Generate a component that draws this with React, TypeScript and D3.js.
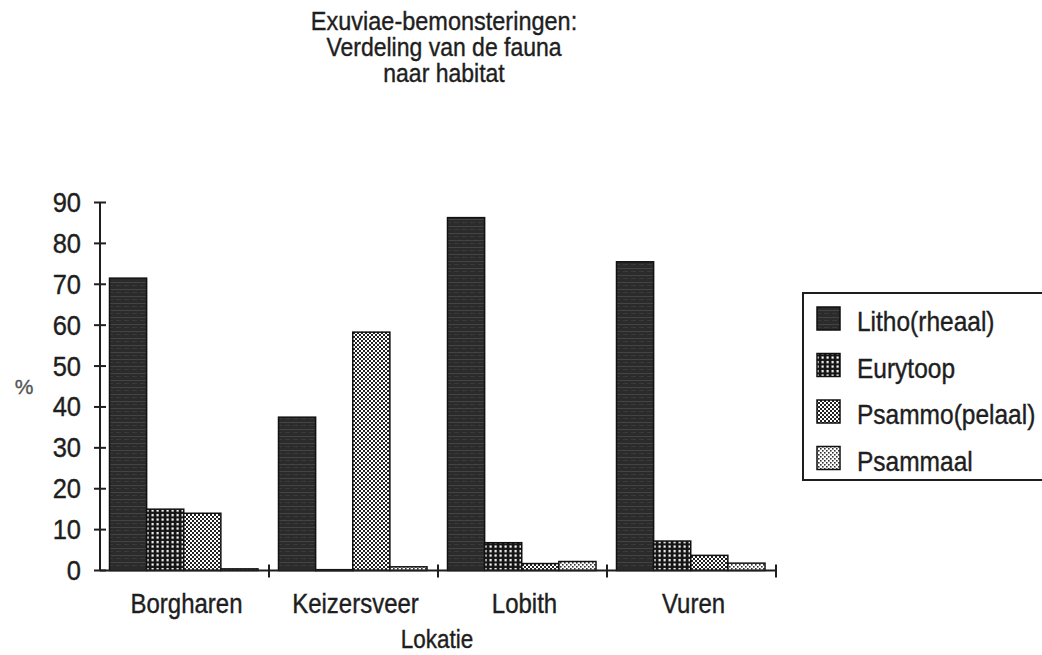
import React from "react";
import * as d3 from "d3";

const categories = ["Borgharen", "Keizersveer", "Lobith", "Vuren"];
const seriesNames = ["Litho(rheaal)", "Eurytoop", "Psammo(pelaal)", "Psammaal"];
const lithoValues = [71.5, 37.5, 86.3, 75.5];
const eurytoopValues = [15.0, 0.2, 6.8, 7.2];
const psammoValues = [14.0, 58.3, 1.7, 3.7];
const psammaalValues = [0.4, 0.9, 2.2, 1.8];
const yTicks = [0, 10, 20, 30, 40, 50, 60, 70, 80, 90];

const seriesValues = [lithoValues, eurytoopValues, psammoValues, psammaalValues];
const patternIds = ["pLitho", "pEury", "pPsammo", "pPsammaal"];

const FONT = "'Liberation Sans', Arial, Helvetica, sans-serif";
const INK = "#1e1e1e";

function T({ x, y, size, anchor = "start", sy = 1.15, fill = INK, children }: any) {
  return (
    <text
      transform={`translate(${x},${y}) scale(1,${sy})`}
      fontSize={size}
      textAnchor={anchor}
      fontFamily={FONT}
      fill={fill}
      stroke={fill}
      strokeWidth={0.35}
    >
      {children}
    </text>
  );
}

export default function App() {
  const W = 1042;
  const H = 655;
  const axisX = 100;
  const axisRight = 776;
  const baseY = 570.5;
  const topY = 202.5;

  const y = d3.scaleLinear().domain([0, 90]).range([baseY, topY]);
  const x0 = d3.scaleBand<string>().domain(categories).range([axisX, axisRight]).padding(0);
  const inner = d3
    .scaleBand<string>()
    .domain(seriesNames)
    .range([9.5, 158])
    .padding(0);

  return (
    <svg
      width={W}
      height={H}
      style={{ position: "absolute", left: 0, top: 0, background: "#fff" }}
    >
      <defs>
        <pattern id="pLitho" width="8" height="7" patternUnits="userSpaceOnUse">
          <rect width="8" height="7" fill="#2b2b2b" />
          <rect y="2" width="8" height="1" fill="#444" />
          <rect y="5" width="5" height="1" fill="#3a3a3a" />
        </pattern>
        <pattern id="pEury" width="5" height="4.5" patternUnits="userSpaceOnUse">
          <rect width="5" height="4.5" fill="#151515" />
          <rect x="1.5" y="1" width="2.2" height="2.2" fill="#fff" />
        </pattern>
        <pattern id="pPsammo" width="4" height="4" patternUnits="userSpaceOnUse">
          <rect width="4" height="4" fill="#fff" />
          <rect x="0" y="0" width="2" height="2" fill="#222" />
          <rect x="2" y="2" width="2" height="2" fill="#222" />
        </pattern>
        <pattern id="pPsammaal" width="4" height="4" patternUnits="userSpaceOnUse">
          <rect width="4" height="4" fill="#fff" />
          <rect x="0" y="0" width="1.6" height="1.6" fill="#333" />
          <rect x="2" y="2" width="1.6" height="1.6" fill="#333" />
        </pattern>
      </defs>

      {/* Title */}
      <T x={444} y={30} size={23.5} anchor="middle" sy={1.1}>Exuviae-bemonsteringen:</T>
      <T x={444} y={56} size={23} anchor="middle" sy={1.1}>Verdeling van de fauna</T>
      <T x={444} y={82} size={23} anchor="middle" sy={1.1}>naar habitat</T>

      {/* Bars */}
      {categories.map((c, ci) => (
        <g key={c} transform={`translate(${x0(c)},0)`}>
          {seriesNames.map((s, si) => {
            const v = seriesValues[si][ci];
            const yt = y(v);
            return (
              <rect
                key={s}
                x={inner(s)}
                y={yt}
                width={inner.bandwidth()}
                height={Math.max(baseY - yt, 1)}
                fill={`url(#${patternIds[si]})`}
                stroke="#111"
                strokeWidth={1.5}
              />
            );
          })}
        </g>
      ))}

      {/* Y axis */}
      <line x1={axisX} x2={axisX} y1={topY} y2={baseY} stroke={INK} strokeWidth={2} />
      {yTicks.map((t) => (
        <g key={t}>
          <line x1={axisX - 6} x2={axisX + 6} y1={y(t)} y2={y(t)} stroke={INK} strokeWidth={2} />
          <T x={81} y={y(t) + 9.5} size={25.5} anchor="end" sy={1.12}>{t}</T>
        </g>
      ))}
      <T x={24} y={394} size={21} anchor="middle" sy={1.0} fill="#555">%</T>

      {/* X axis */}
      <line x1={axisX} x2={axisRight} y1={baseY} y2={baseY} stroke={INK} strokeWidth={2} />
      {categories.map((c) => (
        <line
          key={c + "t"}
          x1={(x0(c) as number) + x0.bandwidth()}
          x2={(x0(c) as number) + x0.bandwidth()}
          y1={baseY - 6}
          y2={baseY + 7}
          stroke={INK}
          strokeWidth={2}
        />
      ))}
      {categories.map((c) => (
        <T key={c + "l"} x={(x0(c) as number) + x0.bandwidth() / 2 + 2} y={613} size={24} anchor="middle" sy={1.17}>
          {c}
        </T>
      ))}
      <T x={437} y={648} size={22.5} anchor="middle" sy={1.15}>Lokatie</T>

      {/* Legend */}
      <rect x={803} y={293} width={260} height={187} fill="none" stroke={INK} strokeWidth={2} />
      {seriesNames.map((s, i) => {
        const sy = 307 + i * 46.5;
        return (
          <g key={s}>
            <rect x={817} y={sy} width={23} height={23} fill={`url(#${patternIds[i]})`} stroke="#111" strokeWidth={1.5} />
            <T x={857} y={sy + 24} size={24.5} sy={1.1}>{s}</T>
          </g>
        );
      })}
    </svg>
  );
}
